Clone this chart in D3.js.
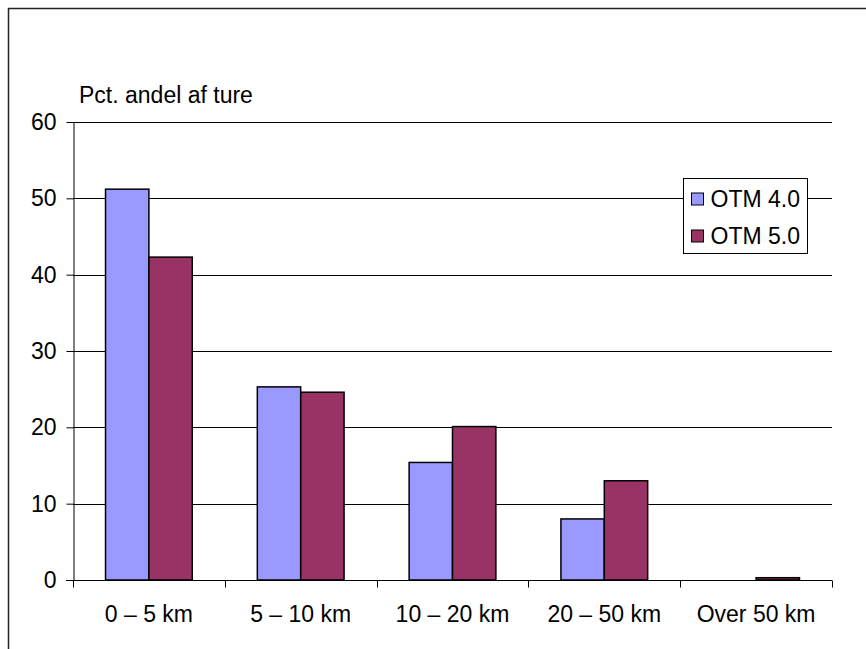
<!DOCTYPE html>
<html>
<head>
<meta charset="utf-8">
<script src="https://cdn.jsdelivr.net/npm/d3@7"></script>
<style>
  html, body { margin: 0; padding: 0; background: #fff; }
  svg { display: block; font-family: "Liberation Sans", Arial, sans-serif; }
</style>
</head>
<body>
<svg id="chart" width="866" height="649"></svg>
<script>
// Trip distance distribution, two model versions
const categories = ["0 – 5 km", "5 – 10 km", "10 – 20 km", "20 – 50 km", "Over 50 km"];
const seriesNames = ["OTM 4.0", "OTM 5.0"];
const otm40 = [51.2, 25.3, 15.4, 8.0, null];
const otm50 = [42.3, 24.6, 20.1, 13.0, 0.3];
const yTicks = [0, 10, 20, 30, 40, 50, 60];
const colors = ["#9999FF", "#993366"];
const yTitle = "Pct. andel af ture";

const svg = d3.select("#chart");
const W = 866, H = 649;
const plot = { left: 73, right: 832, top: 122, bottom: 580 };
const fontSize = 23;

// Outer frame (opens past the right and bottom edges)
svg.append("path")
  .attr("d", `M8.5,${H + 5} L8.5,8.5 L${W + 5},8.5`)
  .attr("fill", "none")
  .attr("stroke", "#222")
  .attr("stroke-width", 1.5);

const x = d3.scaleBand()
  .domain(categories)
  .range([plot.left, plot.right])
  .paddingInner(0)
  .paddingOuter(0);

// Two bars per group with a gap of 1.5 bar widths
const barW = x.bandwidth() / 3.5;
const xs = d3.scaleBand()
  .domain(seriesNames)
  .range([barW * 0.75, barW * 2.75]);

const y = d3.scaleLinear().domain([0, 60]).range([plot.bottom, plot.top]);

// Gridlines
svg.append("g")
  .selectAll("line")
  .data(yTicks.filter(d => d > 0))
  .join("line")
  .attr("x1", plot.left).attr("x2", plot.right)
  .attr("y1", d => Math.round(y(d)) + 0.5).attr("y2", d => Math.round(y(d)) + 0.5)
  .attr("stroke", "#000").attr("stroke-width", 1);

// Bars
const data = categories.map((c, i) => ({ cat: c, vals: [otm40[i], otm50[i]] }));
const groups = svg.append("g").selectAll("g")
  .data(data)
  .join("g")
  .attr("transform", d => `translate(${x(d.cat)},0)`);

groups.selectAll("rect")
  .data(d => d.vals.map((v, j) => ({ v, s: seriesNames[j], j })).filter(e => e.v != null))
  .join("rect")
  .attr("x", e => xs(e.s))
  .attr("width", xs.bandwidth())
  .attr("y", e => y(e.v))
  .attr("height", e => y(0) - y(e.v))
  .attr("fill", e => colors[e.j])
  .attr("stroke", "#000")
  .attr("stroke-width", 1.5);

// Y axis
const yAxis = d3.axisLeft(y).tickValues(yTicks).tickSize(7).tickPadding(10).tickSizeOuter(0);
const gy = svg.append("g")
  .attr("transform", `translate(${plot.left + 0.5},0)`)
  .call(yAxis);
gy.select(".domain").attr("stroke", "#000");
gy.selectAll(".tick line").attr("stroke", "#000");
gy.selectAll(".tick text")
  .attr("font-size", fontSize)
  .attr("font-family", "Liberation Sans, Arial, sans-serif")
  .attr("fill", "#000");

// X axis: ticks at category boundaries
const gx = svg.append("g")
  .attr("transform", `translate(0,${Math.round(y(0)) + 0.5})`);
gx.append("line")
  .attr("x1", plot.left - 7).attr("x2", plot.right)
  .attr("stroke", "#000");
const bounds = categories.map(c => x(c)).concat([plot.right]);
gx.selectAll("line.tk")
  .data(bounds)
  .join("line")
  .attr("class", "tk")
  .attr("x1", d => Math.round(d) + 0.5).attr("x2", d => Math.round(d) + 0.5)
  .attr("y1", 0).attr("y2", 7)
  .attr("stroke", "#000");
gx.selectAll("text")
  .data(categories)
  .join("text")
  .attr("x", d => x(d) + x.bandwidth() / 2)
  .attr("y", 41)
  .attr("text-anchor", "middle")
  .attr("font-size", fontSize)
  .attr("fill", "#000")
  .text(d => d);

// Axis title
svg.append("text")
  .attr("x", 79)
  .attr("y", 102.5)
  .attr("font-size", fontSize)
  .attr("fill", "#000")
  .text(yTitle);

// Legend
const legend = svg.append("g").attr("transform", "translate(683.5,178.5)");
legend.append("rect")
  .attr("width", 124).attr("height", 75)
  .attr("fill", "#fff").attr("stroke", "#000").attr("stroke-width", 1);
seriesNames.forEach((name, i) => {
  const cy = 20.5 + i * 37;
  legend.append("rect")
    .attr("x", 8).attr("y", cy - 6)
    .attr("width", 12).attr("height", 12)
    .attr("fill", colors[i]).attr("stroke", "#000").attr("stroke-width", 1);
  legend.append("text")
    .attr("x", 27).attr("y", cy + 8)
    .attr("font-size", fontSize)
    .attr("fill", "#000")
    .text(name);
});
</script>
</body>
</html>
